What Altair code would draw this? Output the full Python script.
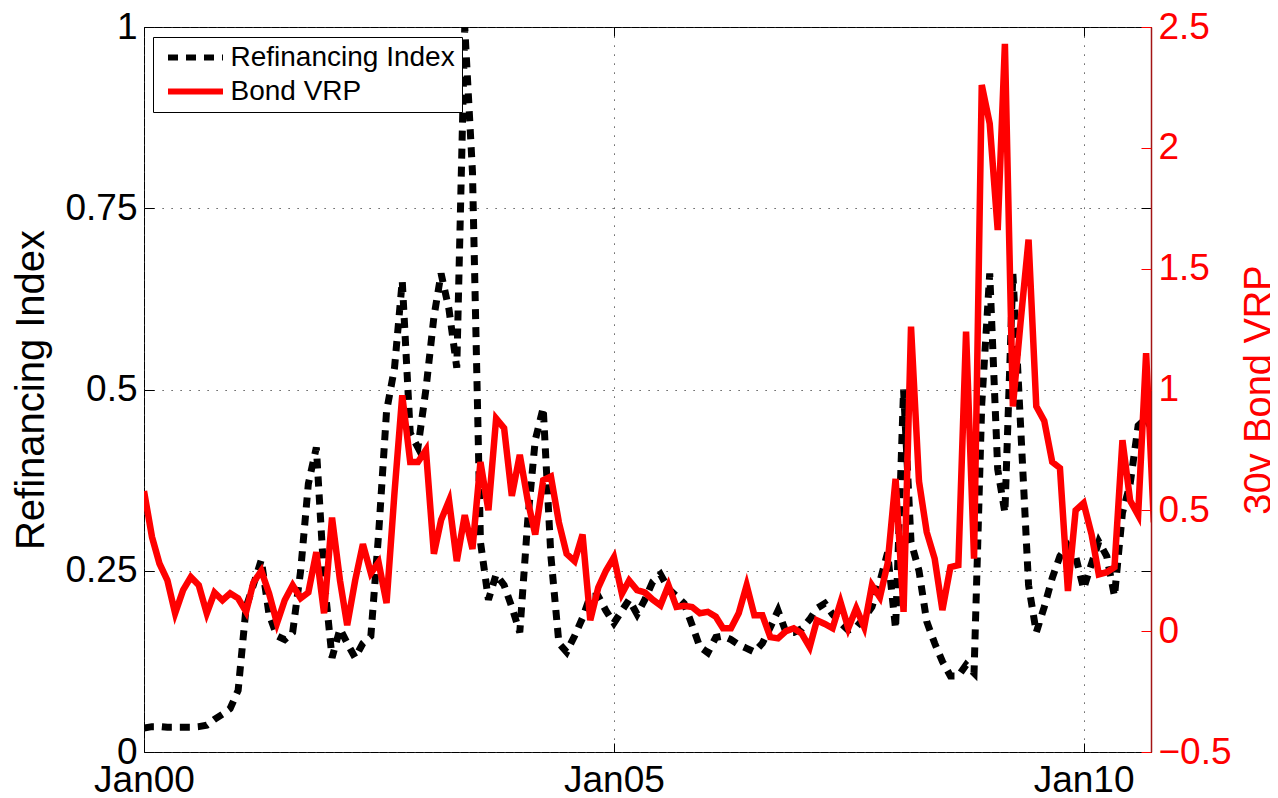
import altair as alt
import pandas as pd

# ---- data ----
months = pd.date_range("2000-01-01", periods=130, freq="MS").strftime("%Y-%m-%d").tolist()

refi = [
    0.033, 0.035, 0.035, 0.034, 0.034, 0.034, 0.034, 0.035, 0.037, 0.045,
    0.052, 0.060, 0.085, 0.200, 0.230, 0.265, 0.190, 0.160, 0.155, 0.165,
    0.250, 0.370, 0.420, 0.240, 0.130, 0.170, 0.150, 0.130, 0.150, 0.160,
    0.300, 0.470, 0.530, 0.650, 0.440, 0.420, 0.500, 0.600, 0.660, 0.610,
    0.530, 1.000, 0.800, 0.290, 0.210, 0.245, 0.230, 0.200, 0.165, 0.320,
    0.430, 0.475, 0.270, 0.150, 0.138, 0.160, 0.185, 0.215, 0.215, 0.195,
    0.178, 0.195, 0.210, 0.190, 0.210, 0.235, 0.245, 0.225, 0.215, 0.205,
    0.175, 0.145, 0.137, 0.158, 0.160, 0.155, 0.148, 0.143, 0.138, 0.150,
    0.172, 0.195, 0.165, 0.165, 0.170, 0.183, 0.198, 0.205, 0.190, 0.178,
    0.168, 0.172, 0.185, 0.200, 0.235, 0.275, 0.170, 0.500, 0.290, 0.250,
    0.180, 0.150, 0.125, 0.105, 0.105, 0.120, 0.109, 0.480, 0.660, 0.390,
    0.330, 0.660, 0.450, 0.230, 0.165, 0.200, 0.240, 0.270, 0.285, 0.270,
    0.225, 0.260, 0.290, 0.270, 0.215, 0.330, 0.370, 0.450, 0.460, 0.440,
]

vrp = [
    0.58, 0.39, 0.28, 0.21, 0.074, 0.17, 0.224, 0.19, 0.074, 0.16,
    0.128, 0.157, 0.136, 0.08, 0.20, 0.25, 0.157, 0.033, 0.128, 0.19,
    0.136, 0.16, 0.327, 0.074, 0.47, 0.21, 0.025, 0.21, 0.36, 0.24,
    0.285, 0.116, 0.575, 0.976, 0.70, 0.70, 0.75, 0.32, 0.46, 0.54,
    0.29, 0.48, 0.34, 0.70, 0.50, 0.88, 0.84, 0.56, 0.73, 0.54,
    0.40, 0.625, 0.64, 0.45, 0.32, 0.29, 0.40, 0.045, 0.18, 0.25,
    0.306, 0.155, 0.21, 0.17, 0.16, 0.13, 0.107, 0.19, 0.10, 0.105,
    0.10, 0.074, 0.08, 0.06, 0.012, 0.012, 0.074, 0.19, 0.066, 0.066,
    -0.025, -0.03, 0.0, 0.012, -0.01, -0.066, 0.045, 0.03, 0.012, 0.12,
    0.012, 0.095, 0.017, 0.19, 0.14, 0.28, 0.63, 0.08, 1.26, 0.62,
    0.41, 0.30, 0.087, 0.265, 0.273, 1.24, 0.30, 2.26, 2.10, 1.66,
    2.43, 0.93, 1.28, 1.62, 0.93, 0.87, 0.70, 0.675, 0.166, 0.50,
    0.53, 0.40, 0.235, 0.244, 0.265, 0.79, 0.54, 0.48, 1.15, 0.45,
]

series_names = ["Refinancing Index", "Bond VRP"]
left_ticks = [0, 0.25, 0.5, 0.75, 1]
right_ticks = [-0.5, 0, 0.5, 1, 1.5, 2, 2.5]
x_tick_years = [2000, 2005, 2010]

df = pd.DataFrame({"date": months, "refi": refi, "vrp": vrp})

FONT = "Liberation Sans"
GRID_DASH = [1.2, 7.8]

x_vals = [alt.DateTime(year=y, month=1, date=1, utc=True) for y in x_tick_years]
x_scale = alt.Scale(
    type="utc",
    domain=[alt.DateTime(year=2000, month=1, date=1, utc=True),
            alt.DateTime(year=2010, month=9, date=20, utc=True)],
)
yl_scale = alt.Scale(domain=[0, 1], nice=False, zero=False)
yr_scale = alt.Scale(domain=[-0.5, 2.5], nice=False, zero=False)

color_scale = alt.Scale(domain=series_names, range=["#000000", "#ff0000"])
dash_scale = alt.Scale(domain=series_names, range=[[10, 8], [1, 0]])

# long horizontal line symbol (path spans 3x the nominal symbol size)
legend = alt.Legend(
    orient="none", legendX=9, legendY=10, title=None,
    symbolType="M-3,0H3", symbolStrokeWidth=6, symbolSize=336,
    labelFontSize=28, labelFont=FONT, labelColor="black", labelOffset=21,
    labelLimit=400, rowPadding=6, padding=6.5, symbolOffset=22,
    fillColor="white", strokeColor="black",
)


def tick_axis(orient, size, color, values, offset):
    return alt.Axis(orient=orient, values=values, offset=offset, ticks=True,
                    tickSize=size, tickColor=color, tickWidth=1, labels=False,
                    domain=False, grid=False)


base = alt.Chart(df)

x_main = alt.X(
    "date:T", scale=x_scale, title=None,
    axis=alt.Axis(orient="bottom", values=x_vals, format="%b%y", labelFlush=False,
                  ticks=False, domain=False, grid=True, gridDash=GRID_DASH,
                  gridColor="#333333", gridWidth=1, labelPadding=10,
                  labelFontSize=37, labelFont=FONT, labelColor="black"),
)
y_left = alt.Y(
    "refi:Q", scale=yl_scale, title="Refinancing Index",
    axis=alt.Axis(orient="left", values=left_ticks, format=".2~f", ticks=False,
                  domain=False, grid=True, gridDash=GRID_DASH, gridColor="#333333",
                  gridWidth=1, labelPadding=7, labelFontSize=37, labelFont=FONT,
                  labelColor="black", titleFontSize=40, titleFont=FONT,
                  titleFontWeight="normal", titleColor="black", titlePadding=13),
)
y_right = alt.Y(
    "vrp:Q", scale=yr_scale, title="30v Bond VRP",
    axis=alt.Axis(orient="right", values=right_ticks, format=".1~f", ticks=False,
                  domain=True, domainColor="#a31515", domainWidth=1.5, grid=False,
                  labelPadding=7, labelFontSize=37, labelFont=FONT,
                  labelColor="#ff0000", titleColor="#ff0000", titleFontSize=38,
                  titleFont=FONT, titleFontWeight="normal", titleAngle=270,
                  titleBaseline="top", titlePadding=9),
)

L1 = base.transform_calculate(series="'Refinancing Index'").mark_line(
    strokeWidth=7, strokeCap="butt", clip=True
).encode(
    x=x_main, y=y_left,
    color=alt.Color("series:N", scale=color_scale, legend=legend),
    strokeDash=alt.StrokeDash("series:N", scale=dash_scale, legend=legend),
)

L1t = base.mark_line(opacity=0).encode(
    x=alt.X("date:T", scale=x_scale, title=None,
            axis=tick_axis("bottom", 9, "black", x_vals, -9)),
    y=alt.Y("refi:Q", scale=yl_scale, title=None,
            axis=tick_axis("left", 10, "black", left_ticks, -10)),
)
L1u = base.mark_line(opacity=0).encode(
    x=alt.X("date:T", scale=x_scale, title=None,
            axis=tick_axis("top", 9, "black", x_vals, -9)),
    y=alt.Y("refi:Q", scale=yl_scale, title=None,
            axis=tick_axis("right", 10, "black", left_ticks, -10)),
)

R1 = base.transform_calculate(series="'Bond VRP'").mark_line(
    strokeWidth=6.5, clip=True
).encode(
    x=alt.X("date:T", scale=x_scale, axis=None),
    y=y_right,
    color=alt.Color("series:N", scale=color_scale, legend=legend),
)
R1t = base.mark_line(opacity=0).encode(
    x=alt.X("date:T", scale=x_scale, axis=None),
    y=alt.Y("vrp:Q", scale=yr_scale, title=None,
            axis=tick_axis("right", 10, "#ff0000", right_ticks, -10)),
)

chart = (
    alt.layer(L1, L1t, L1u, R1, R1t)
    .resolve_scale(y="independent")
    .resolve_axis(x="independent", y="independent")
    .properties(
        width=1007, height=725,
        autosize=alt.AutoSizeParams(type="none"),
        padding={"left": 136, "top": 19, "right": 119, "bottom": 44},
    )
    .configure(font=FONT)
    .configure_view(stroke="black", strokeWidth=1)
)

chart.save("out.html", embed_options={"renderer": "svg", "actions": False})
